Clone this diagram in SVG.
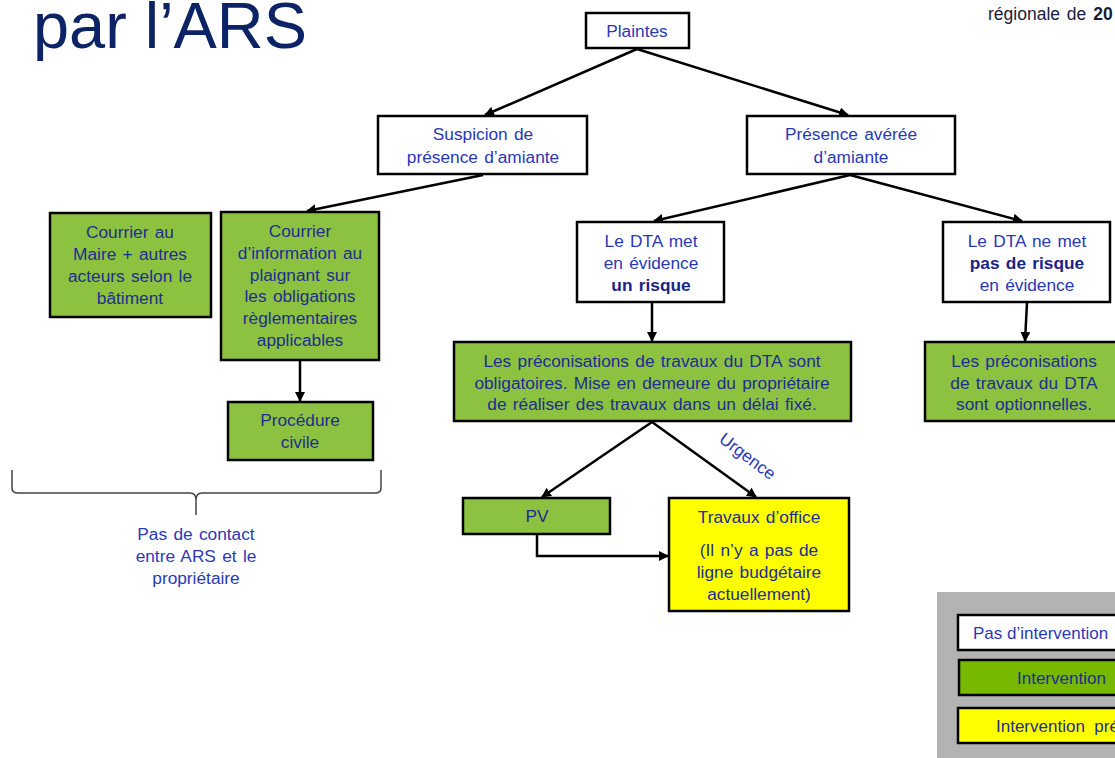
<svg xmlns="http://www.w3.org/2000/svg" width="1115" height="758" viewBox="0 0 1115 758">
<defs>
<marker id="ah" markerWidth="10" markerHeight="10" refX="9" refY="5" orient="auto" markerUnits="userSpaceOnUse">
<path d="M0,0 L10,5 L0,10 z" fill="#000"/>
</marker>
<style>
.t{font-family:"Liberation Sans",Arial,sans-serif;font-size:17.3px;word-spacing:1.5px;text-anchor:middle;fill:#2a38b8}
.g .t,.tg{fill:#1e2e90}
.b{font-weight:bold;fill:#1a2488}
.bw{fill:#fff;stroke:#000;stroke-width:2.5}
.bg{fill:#8cc23f;stroke:#000;stroke-width:2.5}
.by{fill:#ffff00;stroke:#000;stroke-width:2.5}
.c{stroke:#000;stroke-width:2.5;fill:none;marker-end:url(#ah)}
</style>
</defs>
<rect width="1115" height="758" fill="#fff"/>
<text x="33" y="48" font-family="Liberation Sans,Arial,sans-serif" font-size="65" fill="#0c2466" textLength="274" lengthAdjust="spacingAndGlyphs">par l’ARS</text>
<text x="988" y="20" font-family="Liberation Sans,Arial,sans-serif" font-size="17.5" fill="#1a1a3a" word-spacing="2">régionale de <tspan font-weight="bold">20</tspan></text>

<g id="connectors">
<line class="c" x1="637" y1="49" x2="485" y2="115"/>
<line class="c" x1="637" y1="49" x2="848" y2="115"/>
<line class="c" x1="483" y1="175" x2="307" y2="211"/>
<line class="c" x1="850" y1="175" x2="654" y2="221"/>
<line class="c" x1="850" y1="175" x2="1022" y2="221"/>
<line class="c" x1="300" y1="361" x2="300" y2="401"/>
<line class="c" x1="652" y1="303" x2="652" y2="341"/>
<line class="c" x1="1027" y1="303" x2="1025" y2="341"/>
<line class="c" x1="652" y1="422" x2="542" y2="497"/>
<line class="c" x1="652" y1="422" x2="756" y2="497"/>
<path class="c" d="M537,535 V556 H668"/>
<text class="t" transform="translate(744,461) rotate(37)" font-size="16">Urgence</text>
</g>

<g id="plaintes"><rect class="bw" x="586" y="13" width="103" height="35"/><text class="t" x="637" y="37">Plaintes</text></g>
<g id="suspicion"><rect class="bw" x="378" y="116" width="209" height="58"/><text class="t" x="483" y="140">Suspicion de</text><text class="t" x="483" y="163">présence d’amiante</text></g>
<g id="presence"><rect class="bw" x="747" y="116" width="208" height="58"/><text class="t" x="851" y="140">Présence avérée</text><text class="t" x="851" y="163">d’amiante</text></g>

<g id="courrier-maire" class="g"><rect class="bg" x="50" y="213" width="161" height="104"/>
<text class="t" x="130" y="238">Courrier  au</text><text class="t" x="130" y="260">Maire + autres</text><text class="t" x="130" y="282">acteurs selon le</text><text class="t" x="130" y="304">bâtiment</text></g>
<g id="courrier-info" class="g"><rect class="bg" x="221" y="212" width="158" height="148"/>
<text class="t" x="300" y="237">Courrier</text><text class="t" x="300" y="259">d’information  au</text><text class="t" x="300" y="281">plaignant sur</text><text class="t" x="300" y="302">les obligations</text><text class="t" x="300" y="324">règlementaires</text><text class="t" x="300" y="346">applicables</text></g>
<g id="procedure" class="g"><rect class="bg" x="228" y="402" width="145" height="58"/><text class="t" x="300" y="426">Procédure</text><text class="t" x="300" y="448">civile</text></g>

<g id="dta-risque"><rect class="bw" x="577" y="222" width="147" height="80"/>
<text class="t" x="651" y="247">Le DTA  met</text><text class="t" x="651" y="269">en évidence</text><text class="t b" x="651" y="291">un risque</text></g>
<g id="dta-pas-risque"><rect class="bw" x="943" y="222" width="167" height="80"/>
<text class="t" x="1027" y="247">Le DTA  ne met</text><text class="t b" x="1027" y="269">pas de risque</text><text class="t" x="1027" y="291">en évidence</text></g>

<g id="obligatoires" class="g"><rect class="bg" x="454" y="342" width="397" height="79"/>
<text class="t" x="652" y="367">Les préconisations  de travaux  du DTA sont</text>
<text class="t" x="652" y="389">obligatoires. Mise en demeure du propriétaire</text>
<text class="t" x="652" y="410">de réaliser des travaux dans un délai fixé.</text></g>
<g id="optionnelles" class="g"><rect class="bg" x="925" y="342" width="200" height="79"/>
<text class="t" x="1024" y="367">Les préconisations</text><text class="t" x="1024" y="389">de travaux du DTA</text><text class="t" x="1024" y="410">sont optionnelles.</text></g>

<g id="pv" class="g"><rect class="bg" x="463" y="498" width="147" height="36"/><text class="t" x="537" y="522">PV</text></g>
<g id="travaux-office"><rect class="by" x="669" y="498" width="180" height="113"/>
<text class="t tg" x="759" y="523">Travaux  d’office</text><text class="t tg" x="759" y="556">(Il n’y a pas de</text><text class="t tg" x="759" y="578">ligne budgétaire</text><text class="t tg" x="759" y="600">actuellement)</text></g>

<g id="brace">
<path d="M12,470 V488 Q12,493 18,493 H190 Q196,493 196,500 V515 M196,515 V500 Q196,493 202,493 H375 Q381,493 381,488 V470" fill="none" stroke="#444" stroke-width="1.5"/>
<text class="t" x="196" y="540" fill="#3a3ac0">Pas de contact</text><text class="t" x="196" y="562">entre ARS et le</text><text class="t" x="196" y="584">propriétaire</text>
</g>

<g id="legend">
<rect x="937" y="592" width="190" height="170" fill="#b3b3b3"/>
<rect x="958" y="615" width="170" height="35" fill="#fff" stroke="#000" stroke-width="2.5"/>
<text x="973" y="639" font-family="Liberation Sans,Arial,sans-serif" font-size="17" fill="#2a38b8">Pas d’intervention</text>
<rect x="959" y="660" width="170" height="35" fill="#76b900" stroke="#000" stroke-width="2.5"/>
<text x="1017" y="684" font-family="Liberation Sans,Arial,sans-serif" font-size="17" fill="#1e2e90">Intervention</text>
<rect x="958" y="708" width="170" height="35" fill="#ffff00" stroke="#000" stroke-width="2.5"/>
<text x="996" y="732" font-family="Liberation Sans,Arial,sans-serif" font-size="17" fill="#1e2e90" xml:space="preserve">Intervention  pré</text>
</g>
</svg>
